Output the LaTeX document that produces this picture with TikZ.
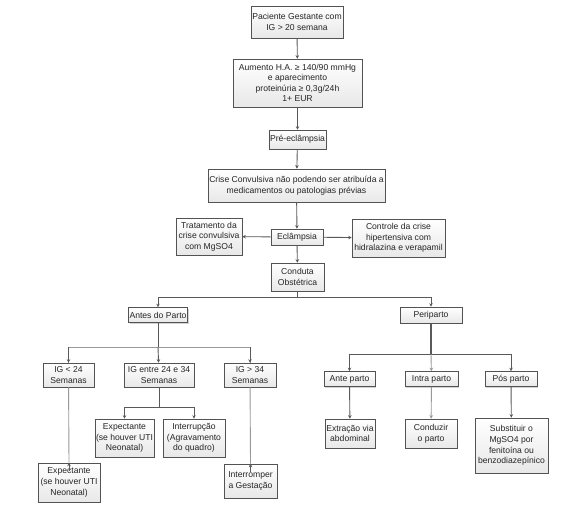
\documentclass[tikz,border=0pt]{standalone}
\usepackage{fontspec}
\setmainfont{Liberation Sans}
\usetikzlibrary{arrows.meta,shadows,shadings}
\begin{document}
\begin{tikzpicture}[x=1pt,y=-1pt,
  box/.style={draw=gray!65!black, line width=0.6pt, top color=white, bottom color=gray!18,
    drop shadow={shadow xshift=1.3pt, shadow yshift=-1.3pt, opacity=0.35, fill=gray},
    align=center, inner sep=1pt, text=black!85, font=\fontsize{8.6}{10.6}\selectfont},
  link/.style={draw=gray!70!black, line width=0.9pt},
  arr/.style={link, -{Stealth[length=3.5pt,width=3.5pt]}},
  lite/.style={draw=gray!80, line width=0.9pt}]
\useasboundingbox[fill=white] (0,0) rectangle (569,516);
% nodes
\node[box, minimum width=92pt, minimum height=32pt] (b1) at (297,22) {Paciente Gestante com\\IG > 20 semana};
\node[box, minimum width=129pt, minimum height=48pt] (b2) at (297.5,83) {Aumento H.A. ≥ 140/90 mmHg\\e aparecimento\\proteinúria ≥ 0,3g/24h\\1+ EUR};
\node[box, minimum width=55pt, minimum height=19pt] (b3) at (297.5,139.5) {Pré-eclâmpsia};
\node[box, minimum width=177pt, minimum height=33pt] (b4) at (296.5,185.5) {Crise Convulsiva não podendo ser atribuída a\\medicamentos ou patologias prévias};
\node[box, minimum width=52pt, minimum height=16pt] (ecl) at (297,237) {Eclâmpsia};
\node[box, minimum width=66pt, minimum height=37pt] (trat) at (209,236.5) {Tratamento da\\crise convulsiva\\com MgSO4};
\node[box, minimum width=93pt, minimum height=38pt] (ctrl) at (398.5,238) {Controle da crise\\hipertensiva com\\hidralazina e verapamil};
\node[box, minimum width=53pt, minimum height=28pt] (cond) at (297.5,277) {Conduta\\Obstétrica};
\node[box, minimum width=59pt, minimum height=15pt] (antes) at (158,315) {Antes do Parto};
\node[box, minimum width=62pt, minimum height=16pt] (peri) at (431,315) {Periparto};
\node[box, minimum width=51pt, minimum height=24pt] (ig1) at (68.5,375) {IG < 24\\Semanas};
\node[box, minimum width=70pt, minimum height=24pt] (ig2) at (159,375) {IG entre 24 e 34\\Semanas};
\node[box, minimum width=52pt, minimum height=24pt] (ig3) at (250,375) {IG > 34\\Semanas};
\node[box, minimum width=59pt, minimum height=38pt] (exp1) at (124.5,438) {Expectante\\(se houver UTI\\Neonatal)};
\node[box, minimum width=62pt, minimum height=38pt] (intr) at (194,438) {Interrupção\\(Agravamento\\do quadro)};
\node[box, minimum width=62pt, minimum height=39pt] (exp2) at (69,482.5) {Expectante\\(se houver UTI\\Neonatal)};
\node[box, minimum width=53pt, minimum height=34pt] (intg) at (250.5,481) {Interromper\\a Gestação};
\node[box, minimum width=51pt, minimum height=15pt] (ante) at (349.5,379) {Ante parto};
\node[box, minimum width=53pt, minimum height=15pt] (intra) at (431.5,379) {Intra parto};
\node[box, minimum width=52pt, minimum height=15pt] (pos) at (511,379) {Pós parto};
\node[box, minimum width=50pt, minimum height=29pt] (extr) at (350,433.5) {Extração via\\abdominal};
\node[box, minimum width=52pt, minimum height=29pt] (condz) at (431,433.5) {Conduzir\\o parto};
\node[box, minimum width=73pt, minimum height=55pt] (subs) at (511.5,445.5) {Substituir o\\MgSO4 por\\fenitoína ou\\benzodiazepínico};
% junctions
\coordinate (j1) at (297.5,297);
\coordinate (j2) at (158,347);
\coordinate (j3) at (159,407);
\coordinate (j4) at (431,354);
% connectors
\draw[arr] (b1) -- (b2);
\draw[arr] (b2) -- (b3);
\draw[arr] (b3) -- (b4);
\draw[arr] (b4) -- (ecl);
\draw[arr] (ecl) -- (trat);
\draw[arr] (ecl) -- (ctrl);
\draw[arr] (ecl) -- (cond);
\draw[link] (cond) -- (j1);
\draw[arr] (j1) -| (antes);
\draw[arr] (j1) -| (peri);
\draw[link] (antes) -- (j2);
\draw[lite] (j2) -| (ig1);
\draw[arr] (ig1.north |- j2) -- (ig1);
\draw[lite] (j2) -| (ig3);
\draw[arr] (ig3.north |- j2) -- (ig3);
\draw[arr] (j2) -- (ig2);
\draw[link] (ig2) -- (j3);
\draw[arr] (j3) -| (exp1);
\draw[arr] (j3) -| (intr);
\draw[lite] (ig1) -- (exp2.north);
\draw[arr] ([yshift=-8pt]exp2.north) -- (exp2);
\draw[lite] (ig3) -- (intg.north);
\draw[arr] ([yshift=-8pt]intg.north) -- (intg);
\draw[link, line width=1.3pt] (peri) -- (j4);
\draw[arr] (j4) -| (ante);
\draw[arr] (j4) -| (pos);
\draw[arr, draw=gray!80] (j4) -- (intra);
\draw[arr] (ante) -- (extr);
\draw[arr, draw=gray!80] (intra) -- (condz);
\draw[arr] (pos) -- (subs);
\end{tikzpicture}
\end{document}
